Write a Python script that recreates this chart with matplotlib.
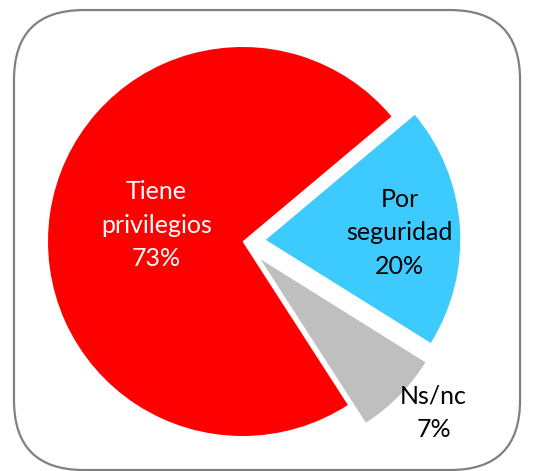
import matplotlib.pyplot as plt
from matplotlib.patches import FancyBboxPatch
import numpy as np

# datos
labels = ['Tiene\nprivilegios', 'Por\nseguridad', 'Ns/nc']
values = [73, 20, 7]
colors = ['#ff0000', '#3dcaff', '#bfbfbf']
text_colors = ['white', 'black', 'black']
explode = [0, 0.12, 0.13]
label_dist = [0.45, 0.69, 1.19]
label_nudge = [-2, -1, 3]  # grados

plt.rcParams['font.family'] = ['Lato', 'DejaVu Sans']

fig = plt.figure(figsize=(5.38, 4.71), dpi=100)
ax = fig.add_axes([0, 0, 1, 1])

wedges, _ = ax.pie(values, colors=colors, explode=explode, startangle=302.8,
                   counterclock=False, wedgeprops=dict(linewidth=0))

# etiquetas
for w, lab, v, tc, d, n in zip(wedges, labels, values, text_colors, label_dist, label_nudge):
    ang = np.deg2rad((w.theta1 + w.theta2) / 2 + n)
    cx, cy = w.center
    ax.text(cx + d * w.r * np.cos(ang), cy + d * w.r * np.sin(ang),
            f'{lab}\n{v}%', ha='center', va='center', color=tc,
            fontsize=18, linespacing=1.55)

# marco redondeado
box = FancyBboxPatch((-1.175, -1.175), 2.602, 2.365,
                     boxstyle='round,pad=0,rounding_size=0.36',
                     fc='none', ec='#808080', lw=1.6, clip_on=False)
ax.add_patch(box)

ax.set_xlim(-242.5 / 194.5, (538 - 242.5) / 194.5)
ax.set_ylim(-(471 - 241.5) / 194.5, 241.5 / 194.5)
ax.set_aspect('auto')
ax.axis('off')

fig.savefig('out.png', dpi=100)
